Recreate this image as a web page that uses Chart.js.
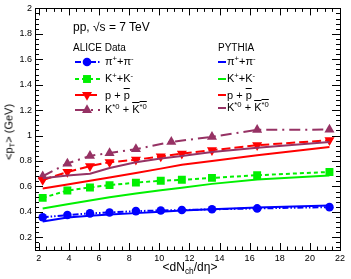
<!DOCTYPE html>
<html>
<head>
<meta charset="utf-8">
<script src="https://cdn.jsdelivr.net/npm/chart.js@4/dist/chart.umd.min.js"></script>
<style>
  body { margin: 0; background: #fff; }
  #wrap { position: relative; width: 351px; height: 279px; font-family: "Liberation Sans", Arial, sans-serif; color: #000; }
  #wrap canvas { position: absolute; left: 0; top: 0; }
  .t { position: absolute; white-space: nowrap; line-height: 1; }
  .t sup { font-size: 0.7em; vertical-align: 0.5em; line-height: 0; }
  .t sub { font-size: 0.7em; vertical-align: -0.3em; line-height: 0; }
  .ov { text-decoration: overline; }
</style>
</head>
<body>
<div id="wrap">
  <canvas id="c" width="351" height="279"></canvas>
  <div class="t" style="left:73px;top:21px;font-size:12px;">pp, &radic;s = 7 TeV</div>
  <div class="t" style="left:73px;top:43px;font-size:10px;">ALICE Data</div>
  <div class="t" style="left:105px;top:56px;font-size:11px;">&pi;<sup>+</sup>+&pi;<sup>-</sup></div>
  <div class="t" style="left:105px;top:73px;font-size:11px;">K<sup>+</sup>+K<sup>-</sup></div>
  <div class="t" style="left:105px;top:90px;font-size:11px;">p + <span class="ov">p</span></div>
  <div class="t" style="left:105px;top:104px;font-size:11px;">K<sup>*0</sup> + <span class="ov">K<sup>*0</sup></span></div>
  <div class="t" style="left:218px;top:43px;font-size:10px;">PYTHIA</div>
  <div class="t" style="left:227px;top:56px;font-size:11px;">&pi;<sup>+</sup>+&pi;<sup>-</sup></div>
  <div class="t" style="left:227px;top:73px;font-size:11px;">K<sup>+</sup>+K<sup>-</sup></div>
  <div class="t" style="left:227px;top:90px;font-size:11px;">p + <span class="ov">p</span></div>
  <div class="t" style="left:227px;top:102px;font-size:11px;">K<sup>*0</sup> + <span class="ov">K<sup>*0</sup></span></div>
  <div class="t" style="left:9px;top:132px;font-size:11px;transform:translate(-50%,-50%) rotate(-90deg);">&lt;p<sub>T</sub>&gt; (GeV)</div>
  <div class="t" style="left:190px;top:267px;font-size:12px;transform:translate(-50%,-50%);">&lt;dN<sub>ch</sub>/d&eta;&gt;</div>
</div>
<script>
// multiplicity bins
const xBins = [2.26, 3.9, 5.4, 6.7, 8.45, 10.1, 11.5, 13.5, 16.5, 21.3];
const xBinsKstar = [2.26, 3.9, 5.4, 6.7, 8.45, 10.8, 13.5, 16.5, 21.3];

// ALICE data
const piData = [0.357, 0.375, 0.388, 0.395, 0.406, 0.411, 0.414, 0.42, 0.427, 0.437];
const kData = [0.51, 0.568, 0.592, 0.61, 0.63, 0.644, 0.652, 0.667, 0.688, 0.714];
const pData = [0.65, 0.714, 0.76, 0.79, 0.81, 0.836, 0.858, 0.885, 0.924, 0.963];
const kstarData = [0.68, 0.78, 0.84, 0.863, 0.893, 0.95, 0.99, 1.045, 1.047];

// PYTHIA
const piPythia = [0.325, 0.355, 0.37, 0.38, 0.39, 0.4, 0.41, 0.42, 0.435, 0.45];
const kPythia = [0.427, 0.46, 0.49, 0.515, 0.545, 0.57, 0.59, 0.62, 0.655, 0.685];
const pPythia = [0.584, 0.615, 0.645, 0.67, 0.705, 0.74, 0.77, 0.8, 0.845, 0.91];
const kstarPythia = [0.665, 0.685, 0.7, 0.745, 0.79, 0.82, 0.84, 0.87, 0.905, 0.95];

const xTickValues = [2, 4, 6, 8, 10, 12, 14, 16, 18, 20, 22];
const yTickValues = [0.2, 0.4, 0.6, 0.8, 1, 1.2, 1.4, 1.6, 1.8, 2];

const BLUE = '#0000ff', GREEN = '#00f000', RED = '#ff0000', PURPLE = '#963264';

function pts(xs, ys) {
    return ys.map((y, i) => ({ x: xs[i], y: y }));
}

function dataSet(xs, ys, color, style, rot, radius, dash) {
    return {
        data: pts(xs, ys),
        borderColor: color,
        backgroundColor: color,
        borderWidth: 2,
        borderDash: dash,
        pointStyle: style,
        rotation: rot,
        pointRadius: radius,
        pointBorderWidth: 0,
        tension: 0
    };
}

function pythiaSet(ys, color) {
    return {
        data: pts(xBins, ys),
        borderColor: color,
        borderWidth: 2,
        pointRadius: 0,
        tension: 0
    };
}

const datasets = [
    pythiaSet(piPythia, BLUE),
    pythiaSet(kPythia, GREEN),
    pythiaSet(pPythia, RED),
    pythiaSet(kstarPythia, PURPLE),
    dataSet(xBins, piData, BLUE, 'circle', 0, 4.3, [6, 2, 1.5, 2, 1.5, 2]),
    dataSet(xBins, kData, GREEN, 'rect', 0, 5.6, [4, 3]),
    dataSet(xBins, pData, RED, 'triangle', 180, 5.8, [9, 4]),
    dataSet(xBinsKstar, kstarData, PURPLE, 'triangle', 0, 5.8, [11, 5, 2, 5])
];

// legend samples, frame and inward ROOT-like ticks
const framePlugin = {
    id: 'frame',
    afterDraw(chart) {
        const ctx = chart.ctx;
        const a = chart.chartArea;
        const xs = chart.scales.x, ys = chart.scales.y;
        ctx.save();
        ctx.strokeStyle = '#000';
        ctx.lineWidth = 1;
        ctx.strokeRect(Math.round(a.left) + 0.5, Math.round(a.top) + 0.5,
            Math.round(a.right - a.left), Math.round(a.bottom - a.top));
        ctx.beginPath();
        for (let v = 2; v <= 22.001; v += 0.5) {
            const px = Math.round(xs.getPixelForValue(v)) + 0.5;
            const major = Math.abs(v / 2 - Math.round(v / 2)) < 1e-6;
            const len = major ? 7 : 3.5;
            ctx.moveTo(px, a.bottom); ctx.lineTo(px, a.bottom - len);
            ctx.moveTo(px, a.top); ctx.lineTo(px, a.top + len);
        }
        for (let v = 0.12; v <= 2.001; v += 0.04) {
            const py = Math.round(ys.getPixelForValue(v)) + 0.5;
            const major = Math.abs(v / 0.2 - Math.round(v / 0.2)) < 1e-6;
            const len = major ? 8 : 4;
            ctx.moveTo(a.left, py); ctx.lineTo(a.left + len, py);
            ctx.moveTo(a.right, py); ctx.lineTo(a.right - len, py);
        }
        ctx.stroke();

        const aliceY = [62, 79, 95, 110];
        const pythiaY = [62, 79, 95, 108];
        for (let i = 0; i < 4; i++) {
            const d = chart.data.datasets[i + 4];
            ctx.strokeStyle = d.borderColor;
            ctx.fillStyle = d.backgroundColor;
            ctx.lineWidth = 2;
            ctx.setLineDash(d.borderDash);
            ctx.beginPath();
            ctx.moveTo(75, aliceY[i]); ctx.lineTo(100, aliceY[i]);
            ctx.stroke();
            ctx.setLineDash([]);
            Chart.helpers.drawPoint(ctx, {
                pointStyle: d.pointStyle, rotation: d.rotation,
                radius: d.pointRadius, borderWidth: 0
            }, 87, aliceY[i]);

            const p = chart.data.datasets[i];
            ctx.strokeStyle = p.borderColor;
            ctx.beginPath();
            ctx.moveTo(218, pythiaY[i]); ctx.lineTo(226, pythiaY[i]);
            ctx.stroke();
        }
        ctx.restore();
    }
};

new Chart(document.getElementById('c'), {
    type: 'line',
    data: { datasets: datasets },
    plugins: [framePlugin],
    options: {
        responsive: false,
        devicePixelRatio: 1,
        animation: false,
        layout: { padding: { left: 0, right: 11, top: 8, bottom: 0 } },
        plugins: { legend: { display: false }, tooltip: { enabled: false } },
        scales: {
            x: {
                type: 'linear',
                min: 1.75,
                max: 22,
                afterBuildTicks: s => { s.ticks = xTickValues.map(v => ({ value: v })); },
                afterFit: s => { s.height = 29; },
                grid: { display: false, drawTicks: false },
                border: { display: false },
                ticks: {
                    padding: 3,
                    maxRotation: 0,
                    color: '#000',
                    font: { family: 'Liberation Sans', size: 9 },
                    callback: v => String(v)
                }
            },
            y: {
                type: 'linear',
                min: 0.1,
                max: 2,
                afterBuildTicks: s => { s.ticks = yTickValues.map(v => ({ value: v })); },
                afterFit: s => { s.width = 35; },
                grid: { display: false, drawTicks: false },
                border: { display: false },
                ticks: {
                    padding: 3,
                    color: '#000',
                    font: { family: 'Liberation Sans', size: 9 },
                    callback: v => String(+v.toFixed(2))
                }
            }
        }
    }
});
</script>
</body>
</html>
